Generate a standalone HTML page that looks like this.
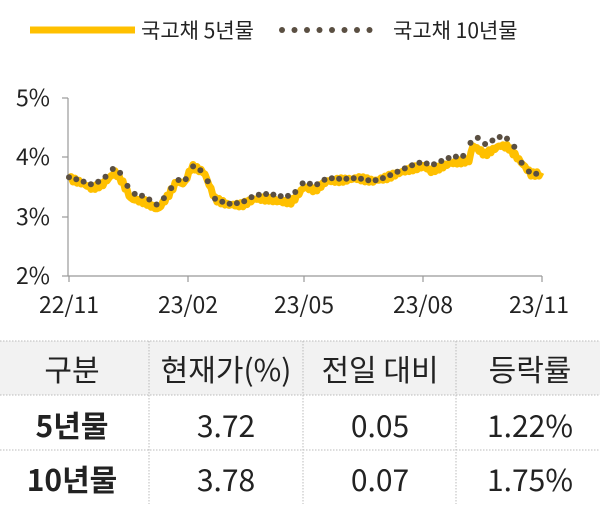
<!DOCTYPE html><html><head><meta charset="utf-8"><style>
body{margin:0;width:600px;height:504px;background:#fff;overflow:hidden;font-family:"Liberation Sans","Noto Sans CJK KR",sans-serif;}
svg text{font-family:"Noto Sans CJK KR","Liberation Sans",sans-serif;}
</style></head><body>
<svg width="600" height="504" xmlns="http://www.w3.org/2000/svg" id="s">
<line x1="30" y1="30" x2="135" y2="30" stroke="#FFC000" stroke-width="7"/>
<text x="141" y="38" font-size="21" fill="#222">국고채 5년물</text>
<g fill="#5a4f42" id="ld"></g>
<text x="393" y="38" font-size="21" fill="#222">국고채 10년물</text>
<line x1="68" y1="98" x2="68" y2="276" stroke="#999" stroke-width="1.2"/>
<line x1="68" y1="276" x2="542" y2="276" stroke="#999" stroke-width="1.2"/>
<g stroke="#999" stroke-width="1.2">
<line x1="62" y1="98" x2="68" y2="98"/><line x1="62" y1="157" x2="68" y2="157"/><line x1="62" y1="217" x2="68" y2="217"/><line x1="62" y1="276" x2="68" y2="276"/>
<line x1="69" y1="276" x2="69" y2="282"/><line x1="188" y1="276" x2="188" y2="282"/><line x1="304" y1="276" x2="304" y2="282"/><line x1="423" y1="276" x2="423" y2="282"/><line x1="542" y1="276" x2="542" y2="282"/>
</g>
<g font-size="23" fill="#222" text-anchor="end">
<text x="50" y="106">5%</text><text x="50" y="165">4%</text><text x="50" y="225">3%</text><text x="50" y="284">2%</text>
</g>
<g font-size="23" fill="#222" text-anchor="middle">
<text x="69" y="313">22/11</text><text x="188" y="313">23/02</text><text x="304" y="313">23/05</text><text x="423" y="313">23/08</text><text x="539" y="313">23/11</text>
</g>
<polyline id="l5" fill="none" stroke="#FFC000" stroke-width="7" stroke-linejoin="round"/>
<g id="d10" fill="#5a4f42"></g>
<rect x="0" y="341" width="600" height="54" fill="#f2f2f2"/>
<g stroke="#bbb" stroke-dasharray="1.5,1.5" stroke-width="1">
<line x1="0" y1="341" x2="600" y2="341"/><line x1="0" y1="395" x2="600" y2="395"/><line x1="0" y1="450" x2="600" y2="450"/>
<line x1="149" y1="341" x2="149" y2="504"/><line x1="303" y1="341" x2="303" y2="504"/><line x1="456" y1="341" x2="456" y2="504"/>
</g>
<g font-size="30" fill="#222" text-anchor="middle">
<text x="72" y="381">구분</text><text x="226" y="381">현재가(%)</text><text x="380" y="381">전일 대비</text><text x="530" y="381">등락률</text>
<text x="72" y="437" font-weight="bold">5년물</text><text x="226" y="437">3.72</text><text x="380" y="437">0.05</text><text x="530" y="437">1.22%</text>
<text x="72" y="491" font-weight="bold">10년물</text><text x="226" y="491">3.78</text><text x="380" y="491">0.07</text><text x="530" y="491">1.75%</text>
</g>
</svg>
<script>
var k=[[69,3.65],[80,3.58],[92,3.48],[103,3.55],[115,3.75],[122,3.6],[131,3.3],[145,3.25],[158,3.12],[168,3.35],[177,3.6],[184,3.55],[192,3.85],[204,3.75],[215,3.3],[228,3.2],[242,3.2],[255,3.3],[269,3.3],[280,3.25],[292,3.25],[304,3.5],[315,3.45],[327,3.6],[345,3.62],[358,3.65],[373,3.6],[385,3.65],[396,3.72],[410,3.8],[423,3.85],[431,3.77],[450,3.9],[469,3.95],[473,4.2],[485,4.05],[500,4.2],[508,4.18],[523,3.88],[531,3.72],[542,3.72]];
function v(x){for(var i=0;i<k.length-1;i++){if(x<=k[i+1][0]){var t=(x-k[i][0])/(k[i+1][0]-k[i][0]);return k[i][1]+t*(k[i+1][1]-k[i][1]);}}return k[k.length-1][1];}
function Y(val){return 276-(val-2)*59.3;}
var p=[];for(var x=69;x<=542;x+=2){p.push(x+","+(Y(v(x)+0.04*Math.sin(x*1.7))).toFixed(1));}
document.getElementById("l5").setAttribute("points",p.join(" "));
var g=document.getElementById("d10"),h="";
for(var x=69;x<=540;x+=7.3){var o=0.05+0.05*Math.sin(x*0.9);if(x>470&&x<515)o+=0.12;h+='<circle cx="'+x.toFixed(1)+'" cy="'+Y(v(x)+o).toFixed(1)+'" r="3"/>';}
g.innerHTML=h;
var l="";for(var x=282;x<=380;x+=12.5){l+='<circle cx="'+x+'" cy="30" r="3"/>';}
document.getElementById("ld").innerHTML=l;
</script>
</body></html>
